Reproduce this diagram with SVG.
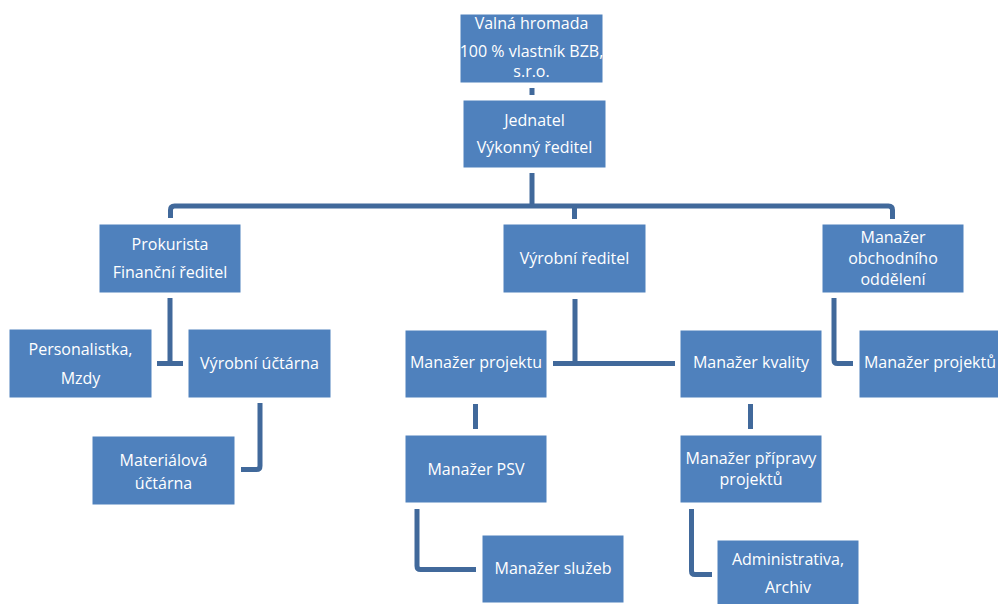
<svg xmlns="http://www.w3.org/2000/svg" width="998" height="604" viewBox="0 0 998 604">
<style>
.b{fill:#4F81BD;stroke:#FFFFFF;stroke-width:1}
.t{font-family:"Open Sans","Liberation Sans",sans-serif;font-size:16px;fill:#FFFFFF;text-anchor:middle}
.c{fill:none;stroke:#41699B;stroke-width:5;stroke-linejoin:round}
</style>
<rect width="998" height="604" fill="#FFFFFF"/>
<g id="connectors">
<path class="c" d="M532 88V95"/>
<path class="c" d="M532 173V206"/>
<path class="c" d="M170.5 218V210Q170.5 206 174.5 206H888.5Q892.5 206 892.5 210V219"/>
<path class="c" d="M574.5 206V219"/>
<path class="c" d="M170 298V363.5M157 363.5H183"/>
<path class="c" d="M260 403V466Q260 469.5 256.5 469.5H241"/>
<path class="c" d="M575 299V363.5M553 363.5H675"/>
<path class="c" d="M834 298V360Q834 363.5 837.5 363.5H853"/>
<path class="c" d="M475.5 404V429"/>
<path class="c" d="M750.5 404V429"/>
<path class="c" d="M417 509V566Q417 569.5 420.5 569.5H476"/>
<path class="c" d="M691.5 509V571Q691.5 574.5 695 574.5H712"/>
</g>
<g id="valna-hromada"><rect class="b" x="460" y="14" width="143" height="69"/><text class="t" x="531.5" y="29">Valná hromada</text><text class="t" x="531.5" y="57">100 % vlastník BZB,</text><text class="t" x="531.5" y="77">s.r.o.</text></g>
<g id="jednatel"><rect class="b" x="463" y="100" width="143" height="68"/><text class="t" x="534.5" y="126">Jednatel</text><text class="t" x="534.5" y="153">Výkonný ředitel</text></g>
<g id="prokurista"><rect class="b" x="99" y="224" width="142" height="69"/><text class="t" x="170" y="250">Prokurista</text><text class="t" x="170" y="278">Finanční ředitel</text></g>
<g id="vyrobni-reditel"><rect class="b" x="503" y="224" width="143" height="69"/><text class="t" x="574.5" y="264">Výrobní ředitel</text></g>
<g id="manazer-obchodniho"><rect class="b" x="822" y="224" width="142" height="69"/><text class="t" x="893" y="243">Manažer</text><text class="t" x="893" y="264">obchodního</text><text class="t" x="893" y="285">oddělení</text></g>
<g id="personalistka"><rect class="b" x="9" y="329" width="143" height="69"/><text class="t" x="80.5" y="355">Personalistka,</text><text class="t" x="80.5" y="384">Mzdy</text></g>
<g id="vyrobni-uctarna"><rect class="b" x="188" y="329" width="143" height="69"/><text class="t" x="259.5" y="369">Výrobní účtárna</text></g>
<g id="materialova-uctarna"><rect class="b" x="92" y="436" width="143" height="69"/><text class="t" x="163.5" y="466">Materiálová</text><text class="t" x="163.5" y="489">účtárna</text></g>
<g id="manazer-projektu"><rect class="b" x="405" y="330" width="142" height="68"/><text class="t" x="476" y="368">Manažer projektu</text></g>
<g id="manazer-kvality"><rect class="b" x="680" y="330" width="142" height="68"/><text class="t" x="751" y="368">Manažer kvality</text></g>
<g id="manazer-projektu2"><rect class="b" x="859" y="330" width="142" height="68"/><text class="t" x="930" y="368">Manažer projektů</text></g>
<g id="manazer-psv"><rect class="b" x="405" y="435" width="142" height="68"/><text class="t" x="476" y="475">Manažer PSV</text></g>
<g id="manazer-pripravy"><rect class="b" x="680" y="435" width="142" height="68"/><text class="t" x="751" y="464">Manažer přípravy</text><text class="t" x="751" y="485">projektů</text></g>
<g id="manazer-sluzeb"><rect class="b" x="482" y="535" width="142" height="68"/><text class="t" x="553" y="574">Manažer služeb</text></g>
<g id="administrativa"><rect class="b" x="717" y="540" width="142" height="68"/><text class="t" x="788" y="565">Administrativa,</text><text class="t" x="788" y="593">Archiv</text></g>
</svg>
